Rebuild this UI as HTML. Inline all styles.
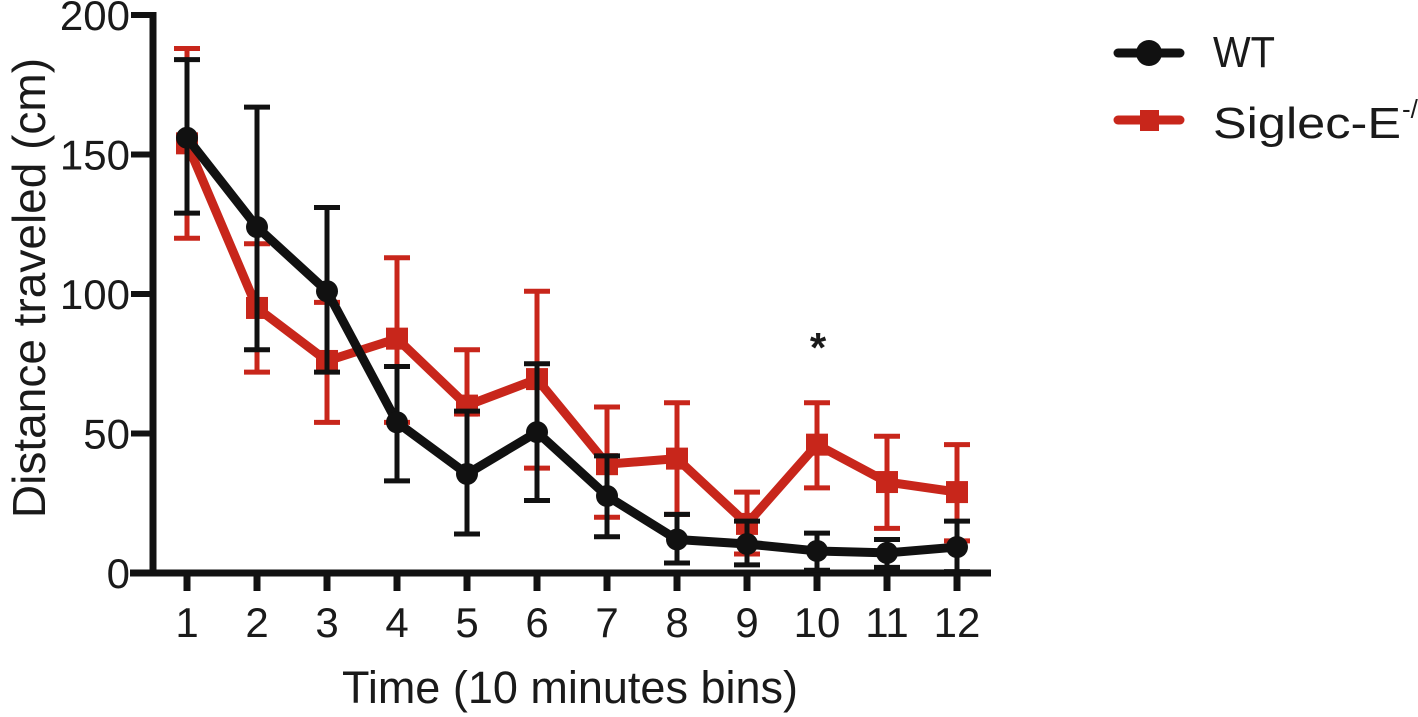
<!DOCTYPE html>
<html><head><meta charset="utf-8"><style>
html,body{margin:0;padding:0;background:#fff;}
svg{display:block;font-family:"Liberation Sans",Arial,sans-serif;}
</style></head><body>
<svg id="chart" width="1418" height="717" viewBox="0 0 1418 717">
<g id="axes"></g>
<g id="series"></g>
<text x="570" y="703" font-size="45" text-anchor="middle" fill="#1a1a1a">Time (10 minutes bins)</text>
<text transform="translate(45,288) rotate(-90)" font-size="46" text-anchor="middle" fill="#1a1a1a">Distance traveled (cm)</text>
<text x="818" y="362" font-size="42" font-weight="bold" text-anchor="middle" fill="#1a1a1a">*</text>
<g>
<g>
<line x1="1118" y1="53" x2="1180" y2="53" stroke="#111" stroke-width="9" stroke-linecap="round"/>
<circle cx="1149" cy="53" r="13" fill="#111"/>
<text x="1213" y="67" font-size="44" textLength="62" lengthAdjust="spacingAndGlyphs" fill="#1a1a1a">WT</text>
</g>
<g>
<line x1="1118" y1="120" x2="1180" y2="120" stroke="#c8261b" stroke-width="9" stroke-linecap="round"/>
<rect x="1140" y="110" width="19" height="21" fill="#c8261b"/>
<text x="1213" y="138" font-size="44" textLength="188" lengthAdjust="spacingAndGlyphs" fill="#1a1a1a">Siglec-E</text>
<text x="1402" y="118" font-size="26" fill="#1a1a1a">-/-</text>
</g>
</g>
</svg>
<script>
const categories = [1,2,3,4,5,6,7,8,9,10,11,12];
const yTicks = [0,50,100,150,200];
const wtMean = [156,124,101,54,35.5,50.5,27.6,12,10.4,7.9,7.2,9.3];
const wtUpper = [184,167,131,74,58,75,42,21,18.6,14.3,12,18.6];
const wtLower = [129,80,72,33,14,26,13,3.6,2.9,1,2,0.5];
const koMean = [154,95,76,84,60,69.5,39,41,17.6,46,32.6,29];
const koUpper = [188,118,97,113,80,101,59.5,61,29,61,49,46];
const koLower = [120,72,54,54,57,37.6,20,21,6.8,30.5,16,11.5];

const NS="http://www.w3.org/2000/svg";
const X0=187, XSTEP=70, Y0=573, YSCALE=2.79;
function xs(c){return X0+(c-1)*XSTEP;}
function ys(v){return Y0-v*YSCALE;}
function mk(tag,attrs,parent){const e=document.createElementNS(NS,tag);for(const k in attrs)e.setAttribute(k,attrs[k]);parent.appendChild(e);return e;}

const axes=document.getElementById('axes');
let e;
e=mk('line',{x1:153,y1:ys(200)-3,x2:153,y2:Y0+3.5,stroke:'#111','stroke-width':7},axes);


e=mk('line',{x1:130,y1:Y0,x2:991,y2:Y0,stroke:'#111','stroke-width':7},axes);


yTicks.forEach(t=>{
  e=mk('line',{x1:131,y1:ys(t),x2:153,y2:ys(t),stroke:'#111','stroke-width':6},axes);
  
  
  e=mk('text',{x:130,y:ys(t)+15,'font-size':42,'text-anchor':'end',fill:'#1a1a1a'},axes);
  e.textContent=t;
  
  
});
categories.forEach(c=>{
  e=mk('line',{x1:xs(c),y1:Y0,x2:xs(c),y2:Y0+18,stroke:'#111','stroke-width':7},axes);
  
  
  e=mk('text',{x:xs(c),y:637,'font-size':42,'text-anchor':'middle',fill:'#1a1a1a'},axes);
  e.textContent=c;
  
  
});

const series=document.getElementById('series');
function drawSeries(mean,up,lo,color,shape,name){
  const g=mk('g',{},series);
  
  
  categories.forEach((c,i)=>{
    const x=xs(c);
    e=mk('path',{d:`M${x},${ys(up[i])}V${ys(lo[i])}M${x-13},${ys(up[i])}H${x+13}M${x-13},${ys(lo[i])}H${x+13}`,stroke:color,'stroke-width':5,fill:'none'},g);
    
    
  });
  e=mk('polyline',{points:categories.map((c,i)=>xs(c)+','+ys(mean[i])).join(' '),stroke:color,'stroke-width':9,fill:'none','stroke-linejoin':'round'},g);
  
  
  categories.forEach((c,i)=>{
    if(shape==='circle') e=mk('circle',{cx:xs(c),cy:ys(mean[i]),r:11,fill:color},g);
    else e=mk('rect',{x:xs(c)-11,y:ys(mean[i])-11,width:22,height:22,fill:color},g);
    
    
  });
}
drawSeries(koMean,koUpper,koLower,'#c8261b','square','siglec-e-ko');
drawSeries(wtMean,wtUpper,wtLower,'#111','circle','wt');
</script>
</body></html>
